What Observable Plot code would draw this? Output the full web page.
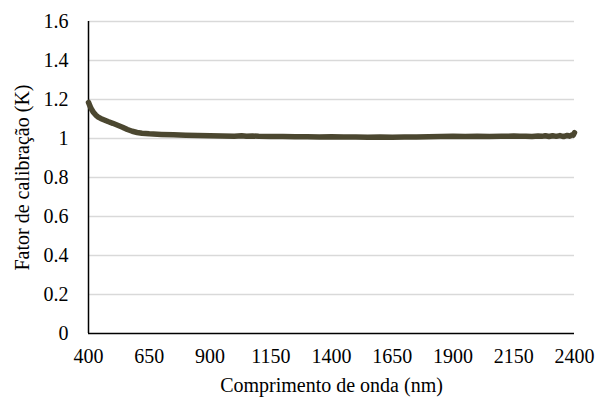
<!DOCTYPE html>
<html>
<head>
<meta charset="utf-8">
<script src="https://cdn.jsdelivr.net/npm/d3@7"></script>
<script src="https://cdn.jsdelivr.net/npm/@observablehq/plot@0.6"></script>
<style>
  html, body { margin: 0; padding: 0; background: #fff; }
</style>
</head>
<body>
<div id="chart"></div>
<script>
const wavelength = [400,405,410,420,430,440,450,465,480,500,520,540,560,580,600,620,650,700,750,800,850,900,950,1000,1030,1050,1075,1100,1150,1200,1250,1300,1350,1400,1450,1500,1550,1600,1650,1700,1750,1800,1850,1900,1950,2000,2050,2100,2125,2150,2175,2200,2225,2250,2265,2280,2295,2310,2325,2340,2355,2370,2380,2390,2395,2400];
const factor = [1.185,1.17,1.155,1.135,1.12,1.11,1.103,1.095,1.087,1.078,1.068,1.058,1.046,1.037,1.031,1.027,1.024,1.021,1.019,1.017,1.015,1.014,1.013,1.012,1.014,1.011,1.013,1.011,1.01,1.01,1.009,1.009,1.008,1.009,1.008,1.008,1.007,1.008,1.007,1.008,1.008,1.009,1.01,1.011,1.01,1.011,1.01,1.012,1.011,1.013,1.011,1.012,1.010,1.013,1.011,1.014,1.010,1.014,1.011,1.015,1.010,1.016,1.012,1.019,1.017,1.03];
const xTicks = [400,650,900,1150,1400,1650,1900,2150,2400];
const yTicks = [0,0.2,0.4,0.6,0.8,1,1.2,1.4,1.6];
const xLabel = "Comprimento de onda (nm)";
const yLabel = "Fator de calibração (K)";

const data = wavelength.map((w, i) => ({w, k: factor[i]}));
const FONT = "'Liberation Serif', serif";

const chart = Plot.plot({
  width: 597,
  height: 398,
  marginTop: 21,
  marginBottom: 65,
  marginLeft: 88,
  marginRight: 23,
  style: {fontSize: "20px", color: "#000", background: "#fff"},
  x: {domain: [400, 2400]},
  y: {domain: [0, 1.6]},
  marks: [
    Plot.gridY(yTicks.filter(d => d > 0), {stroke: "#d9d9d9", strokeOpacity: 1, strokeWidth: 1.5}),
    Plot.axisX(xTicks, {tickSize: 0, tickPadding: 15, tickFormat: d => String(d), label: xLabel, labelAnchor: "center", labelArrow: "none", labelOffset: 58, fontSize: 20}),
    Plot.axisY(yTicks, {tickSize: 0, tickPadding: 20, tickFormat: d => String(+d.toFixed(1)), label: yLabel, labelAnchor: "center", labelArrow: "none", labelOffset: 74, fontSize: 20}),
    Plot.ruleX([400], {stroke: "#000", strokeWidth: 1.5}),
    Plot.ruleY([0], {stroke: "#000", strokeWidth: 1.5}),
    Plot.line(data, {x: "w", y: "k", stroke: "#4b4730", strokeWidth: 5.5, strokeLinecap: "round", strokeLinejoin: "round"})
  ]
});
chart.style.setProperty("font-family", FONT, "important");
chart.querySelectorAll("text, g, tspan").forEach(t => {
  t.setAttribute("font-family", "Liberation Serif");
  t.style.setProperty("font-family", FONT, "important");
});
document.getElementById("chart").appendChild(chart);
</script>
</body>
</html>
